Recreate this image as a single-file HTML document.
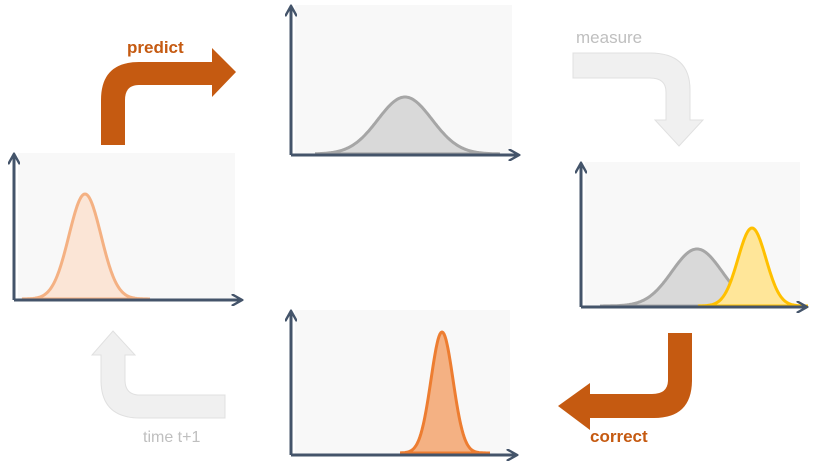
<!DOCTYPE html>
<html><head><meta charset="utf-8"><style>
body{margin:0;background:#fff;}
svg{display:block;font-family:"Liberation Sans",sans-serif;}
</style></head><body>
<svg id="s" width="827" height="473" viewBox="0 0 827 473">
<defs>
<marker id="ah" viewBox="0 0 10 10" refX="8" refY="5" markerWidth="4" markerHeight="4" orient="auto-start-reverse"><path d="M0,0 L9,5 L0,10" fill="none" stroke="#44546a" stroke-width="2"/></marker>
</defs>
<!-- arrows -->
<path d="M101,145 L101,100 Q101,62 139,62 L212,62 L212,48 L236,72 L212,97 L212,85 L139,85 Q125,85 125,100 L125,145 Z" fill="#c55a11"/>
<text x="127" y="53" font-size="17" font-weight="bold" fill="#c55a11">predict</text>
<path d="M573,53 L650,53 Q690,53 690,90 L690,120 L703,120 L679,146 L655,120 L666,120 L666,92 Q666,78 650,78 L573,78 Z" fill="#f0f0f0" stroke="#e0e0e0" stroke-width="1"/>
<text x="576" y="43" font-size="17" fill="#bfbfbf">measure</text>
<path d="M668,333 L692,333 L692,380 Q692,418 654,418 L590,418 L590,430 L558,406 L590,383 L590,394 L652,394 Q668,394 668,380 Z" fill="#c55a11"/>
<text x="590" y="442" font-size="17" font-weight="bold" fill="#c55a11">correct</text>
<path d="M225,395 L225,418 L140,418 Q101,418 101,380 L101,355 L92,355 L113,331 L135,355 L125,355 L125,380 Q125,395 140,395 Z" fill="#f0f0f0" stroke="#e0e0e0" stroke-width="1"/>
<text x="143" y="442" font-size="16" fill="#bfbfbf">time t+1</text>
<g id="panels"></g>
</svg>
<script>
// distribution parameters (mean x position, peak height, sigma) per panel
const panelNames = ["prior","predicted","measured","measurement","corrected"];
const means = [85, 405, 697, 752, 442];
const peaks = [105, 57, 57, 78, 121];
const sigmas = [16, 27, 25, 14, 11];
const fills = ["#fbe5d6","#d9d9d9","#d9d9d9","#ffe699","#f4b183"];
const strokes = ["#f4b183","#a6a6a6","#a6a6a6","#ffc000","#ed7d31"];
const base = [299, 154, 306, 306, 453];
const range = [[22,150],[315,500],[600,790],[698,808],[400,490]];
const frames = [[14,153,235,300],[291,5,512,155],[581,162,800,307],[581,162,800,307],[291,310,510,455]];
const NS="http://www.w3.org/2000/svg";
const g=document.getElementById('panels');
const drawn={};
frames.forEach((f,i)=>{
  const key=f.join(',');
  if(drawn[key])return; drawn[key]=1;
  const r=document.createElementNS(NS,'rect');
  r.setAttribute('x',f[0]+4);r.setAttribute('y',f[1]);r.setAttribute('width',f[2]-f[0]-4);r.setAttribute('height',f[3]-f[1]);r.setAttribute('fill','#f8f8f8');
  
  
  g.appendChild(r);
});
function curve(i){
  let d='';
  for(let x=range[i][0];x<=range[i][1];x+=1){
    const y=base[i]-peaks[i]*Math.exp(-0.5*Math.pow((x-means[i])/sigmas[i],2));
    d+=(d?'L':'M')+x+','+y.toFixed(1);
  }
  const p=document.createElementNS(NS,'path');
  p.setAttribute('d',d+'Z');p.setAttribute('fill',fills[i]);p.setAttribute('stroke',strokes[i]);p.setAttribute('stroke-width','3');
  
  
  g.appendChild(p);
}
[0,1,2,3,4].forEach(curve);
const drawnAx={};
frames.forEach((f,i)=>{
  const key=f.join(',');
  if(drawnAx[key])return; drawnAx[key]=1;
  const ya=document.createElementNS(NS,'path');
  ya.setAttribute('d','M'+f[0]+','+(f[3])+' L'+f[0]+','+(f[1]+2));
  ya.setAttribute('stroke','#44546a');ya.setAttribute('stroke-width','3');ya.setAttribute('marker-end','url(#ah)');
  
  
  g.appendChild(ya);
  const xa=document.createElementNS(NS,'path');
  xa.setAttribute('d','M'+f[0]+','+f[3]+' L'+(f[2]+6)+','+f[3]);
  xa.setAttribute('stroke','#44546a');xa.setAttribute('stroke-width','3');xa.setAttribute('marker-end','url(#ah)');
  
  
  g.appendChild(xa);
});
</script>
</body></html>
